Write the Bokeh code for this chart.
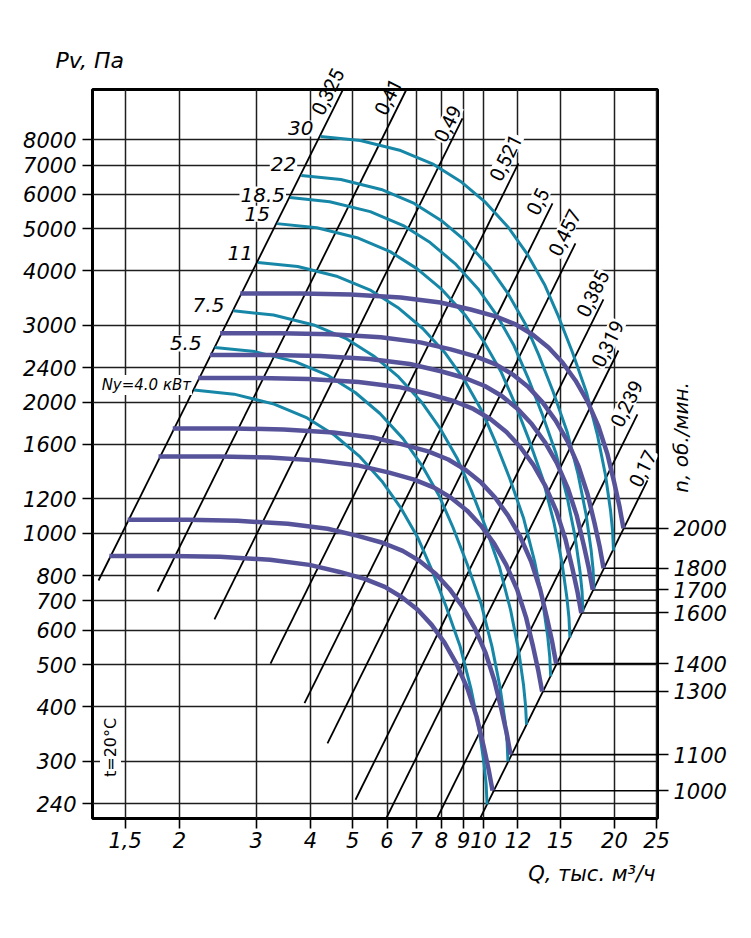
import math
from bokeh.plotting import figure
from bokeh.models import Range1d, FixedTicker, LogAxis, Label, Title
from bokeh.embed import file_html
from bokeh.resources import INLINE

# ---------------- axis ticks ----------------
q_ticks = [1.5, 2, 3, 4, 5, 6, 7, 8, 9, 10, 12, 15, 20, 25]
q_tick_labels = ["1,5", "2", "3", "4", "5", "6", "7", "8", "9", "10", "12", "15", "20", "25"]
p_ticks = [240, 300, 400, 500, 600, 700, 800, 1000, 1200, 1600, 2000, 2400,
           3000, 4000, 5000, 6000, 7000, 8000]
p_tick_labels = [str(v) for v in p_ticks]

Q_MIN, Q_MAX = 1.262, 25.12
P_MIN, P_MAX = 221.9, 10430

# ---------------- efficiency lines (P ~ Q^2) ----------------
eff_labels = ["0,325", "0,41", "0,49", "0,521", "0,5", "0,457", "0,385", "0,319", "0,239", "0,17"]
eff_q_lo = [1.303, 1.781, 2.407, 3.238, 3.877, 4.378, 5.078, 5.499, 6.08, 6.41]
eff_p_lo = [780, 736, 635, 503, 408, 330, 245, 188, 134, 94]
eff_q_hi = [4.766, 6.65, 8.948, 12.03, 14.41, 16.27, 18.87, 20.43, 22.59, 23.82]
eff_p_hi = [10486, 10430, 8950, 7058, 5713, 4626, 3441, 2628, 1875, 1323]

# ---------------- power curves (teal), Ny, kW ----------------
power_labels = ["30", "22", "18.5", "15", "11", "7.5", "5.5", "Ny=4.0 кВт"]
teal_q_30 = [4.22, 5.21, 6.45, 7.68, 8.86, 10.11, 11.41, 12.62, 13.81, 14.87, 16.02, 17.25, 18.29, 19.08, 19.59, 19.80, 19.90]
teal_p_30 = [8140, 7966, 7556, 7021, 6418, 5744, 5032, 4364, 3725, 3146, 2601, 2106, 1678, 1358, 1129, 1016, 914]
teal_q_22 = [3.81, 4.70, 5.82, 6.93, 7.99, 9.12, 10.29, 11.38, 12.46, 13.41, 14.45, 15.56, 16.50, 17.21, 17.67, 17.86, 17.95]
teal_p_22 = [6626, 6484, 6151, 5715, 5224, 4676, 4096, 3552, 3032, 2561, 2117, 1714, 1366, 1105, 919, 827, 744]
teal_q_185 = [3.59, 4.43, 5.49, 6.54, 7.54, 8.60, 9.71, 10.74, 11.75, 12.65, 13.63, 14.68, 15.56, 16.24, 16.67, 16.85, 16.93]
teal_p_185 = [5893, 5767, 5471, 5083, 4647, 4159, 3643, 3160, 2697, 2278, 1883, 1525, 1215, 983, 817, 736, 662]
teal_q_15 = [3.35, 4.14, 5.12, 6.10, 7.03, 8.03, 9.06, 10.02, 10.97, 11.81, 12.72, 13.70, 14.52, 15.15, 15.55, 15.72, 15.80]
teal_p_15 = [5136, 5027, 4768, 4430, 4050, 3624, 3175, 2754, 2350, 1985, 1641, 1329, 1059, 857, 712, 641, 577]
teal_q_11 = [3.03, 3.74, 4.62, 5.51, 6.35, 7.25, 8.18, 9.05, 9.90, 10.66, 11.49, 12.37, 13.11, 13.68, 14.05, 14.20, 14.27]
teal_p_11 = [4184, 4095, 3884, 3609, 3299, 2952, 2586, 2243, 1915, 1617, 1337, 1082, 862, 698, 580, 522, 470]
teal_q_75 = [2.66, 3.29, 4.07, 4.85, 5.59, 6.38, 7.20, 7.96, 8.71, 9.38, 10.11, 10.88, 11.54, 12.04, 12.36, 12.49, 12.56]
teal_p_75 = [3240, 3170, 3007, 2794, 2554, 2286, 2003, 1737, 1483, 1252, 1035, 838, 668, 540, 449, 404, 364]
teal_q_55 = [2.41, 2.98, 3.69, 4.39, 5.07, 5.78, 6.53, 7.22, 7.90, 8.51, 9.16, 9.87, 10.46, 10.91, 11.21, 11.33, 11.38]
teal_p_55 = [2670, 2613, 2478, 2303, 2105, 1884, 1650, 1431, 1222, 1032, 853, 691, 550, 445, 370, 333, 300]
teal_q_40 = [2.16, 2.67, 3.30, 3.93, 4.54, 5.18, 5.84, 6.46, 7.07, 7.61, 8.20, 8.83, 9.36, 9.77, 10.03, 10.14, 10.19]
teal_p_40 = [2133, 2087, 1980, 1840, 1682, 1505, 1318, 1143, 976, 824, 681, 552, 440, 356, 296, 266, 239]

# ---------------- fan curves (purple), n, rpm ----------------
rpm_values = [2000, 1800, 1700, 1600, 1400, 1300, 1100, 1000]
purple_q_2000 = [2.76, 3.80, 4.95, 6.45, 7.96, 9.34, 10.66, 11.85, 12.96, 14.11, 15.19, 16.27, 17.34, 18.38, 19.28, 20.00, 20.54, 20.98]
purple_p_2000 = [3553, 3553, 3534, 3478, 3387, 3264, 3146, 3016, 2860, 2670, 2467, 2243, 2008, 1759, 1518, 1302, 1153, 1027]
purple_q_1800 = [2.48, 3.42, 4.46, 5.81, 7.16, 8.41, 9.59, 10.67, 11.66, 12.70, 13.67, 14.64, 15.61, 16.54, 17.35, 18.00, 18.49, 18.88]
purple_p_1800 = [2878, 2878, 2863, 2817, 2743, 2644, 2548, 2443, 2317, 2163, 1998, 1817, 1626, 1425, 1230, 1055, 934, 832]
purple_q_1700 = [2.35, 3.23, 4.21, 5.48, 6.77, 7.94, 9.06, 10.07, 11.02, 11.99, 12.91, 13.83, 14.74, 15.62, 16.39, 17.00, 17.46, 17.83]
purple_p_1700 = [2567, 2567, 2553, 2513, 2447, 2358, 2273, 2179, 2066, 1929, 1782, 1621, 1451, 1271, 1097, 941, 833, 742]
purple_q_1600 = [2.21, 3.04, 3.96, 5.16, 6.37, 7.47, 8.53, 9.48, 10.37, 11.29, 12.15, 13.02, 13.87, 14.70, 15.42, 16.00, 16.43, 16.78]
purple_p_1600 = [2274, 2274, 2262, 2226, 2168, 2089, 2013, 1930, 1830, 1709, 1579, 1436, 1285, 1126, 972, 833, 738, 657]
purple_q_1400 = [1.93, 2.66, 3.47, 4.52, 5.57, 6.54, 7.46, 8.30, 9.07, 9.88, 10.63, 11.39, 12.14, 12.87, 13.50, 14.00, 14.38, 14.69]
purple_p_1400 = [1741, 1741, 1732, 1704, 1660, 1599, 1542, 1478, 1401, 1308, 1209, 1099, 984, 862, 744, 638, 565, 503]
purple_q_1300 = [1.79, 2.47, 3.22, 4.19, 5.17, 6.07, 6.93, 7.70, 8.42, 9.17, 9.87, 10.58, 11.27, 11.95, 12.53, 13.00, 13.35, 13.64]
purple_p_1300 = [1501, 1501, 1493, 1469, 1431, 1379, 1329, 1274, 1208, 1128, 1042, 948, 848, 743, 641, 550, 487, 434]
purple_q_1100 = [1.52, 2.09, 2.72, 3.55, 4.38, 5.14, 5.86, 6.52, 7.13, 7.76, 8.35, 8.95, 9.54, 10.11, 10.60, 11.00, 11.30, 11.54]
purple_p_1100 = [1075, 1075, 1069, 1052, 1025, 987, 952, 912, 865, 808, 746, 679, 607, 532, 459, 394, 349, 311]
purple_q_1000 = [1.38, 1.90, 2.48, 3.23, 3.98, 4.67, 5.33, 5.93, 6.48, 7.06, 7.60, 8.14, 8.67, 9.19, 9.64, 10.00, 10.27, 10.49]
purple_p_1000 = [888, 888, 884, 870, 847, 816, 787, 754, 715, 668, 617, 561, 502, 440, 380, 326, 288, 257]

teal_curves = [(teal_q_30, teal_p_30), (teal_q_22, teal_p_22), (teal_q_185, teal_p_185),
               (teal_q_15, teal_p_15), (teal_q_11, teal_p_11), (teal_q_75, teal_p_75),
               (teal_q_55, teal_p_55), (teal_q_40, teal_p_40)]
purple_curves = [(purple_q_2000, purple_p_2000), (purple_q_1800, purple_p_1800),
                 (purple_q_1700, purple_p_1700), (purple_q_1600, purple_p_1600),
                 (purple_q_1400, purple_p_1400), (purple_q_1300, purple_p_1300),
                 (purple_q_1100, purple_p_1100), (purple_q_1000, purple_p_1000)]

TEAL = "#1787a8"
PURPLE = "#57539a"
GRID = "#1e1e1e"
FONT = "DejaVu Sans"

p = figure(x_axis_type="log", y_axis_type="log",
           x_range=Range1d(Q_MIN, Q_MAX), y_range=Range1d(P_MIN, P_MAX),
           frame_width=565, frame_height=729,
           min_border_left=92, min_border_right=86, min_border_top=89, min_border_bottom=90,
           output_backend="svg", toolbar_location=None)
p.background_fill_color = "white"
p.border_fill_color = "white"
p.outline_line_color = "black"
p.outline_line_width = 3


def style_axis(ax):
    ax.axis_line_color = None
    ax.major_tick_line_color = "black"
    ax.major_tick_line_width = 1.6
    ax.major_tick_out = 10
    ax.major_tick_in = 0
    ax.minor_tick_line_color = None
    ax.major_label_text_font = FONT
    ax.major_label_text_font_style = "italic"
    ax.major_label_text_font_size = "21px"
    ax.major_label_text_color = "black"
    ax.major_label_standoff = 5


xax = p.xaxis[0]
xax.ticker = FixedTicker(ticks=q_ticks)
xax.major_label_overrides = dict(zip(q_ticks, q_tick_labels))
style_axis(xax)
xax.major_label_standoff = 3

yax = p.yaxis[0]
yax.ticker = FixedTicker(ticks=p_ticks)
yax.major_label_overrides = dict(zip(p_ticks, p_tick_labels))
style_axis(yax)
yax.major_label_standoff = 6

leader_p = [c[1][-1] for c in purple_curves]
leader_q = [c[0][-1] for c in purple_curves]
rax = LogAxis(ticker=FixedTicker(ticks=leader_p),
              major_label_overrides={pv: str(n) for pv, n in zip(leader_p, rpm_values)})
style_axis(rax)
rax.major_tick_out = 11
p.add_layout(rax, "right")

# the two top efficiency labels cross the frame edge: drawn as rotated labels of a top axis
top_label_q = [q * 0.867 for q in eff_q_hi[:2]]
tax = LogAxis(ticker=FixedTicker(ticks=top_label_q),
              major_label_overrides=dict(zip(top_label_q, eff_labels[:2])))
tax.axis_line_color = None
tax.major_tick_line_color = None
tax.major_tick_out = 0
tax.major_tick_in = 0
tax.minor_tick_line_color = None
tax.major_label_orientation = 1.11
tax.major_label_standoff = -24
tax.major_label_text_font = "Roboto"
tax.major_label_text_font_size = "20px"
tax.major_label_text_color = "black"
p.add_layout(tax, "above")

# "Pv, Па" in the top panel
p.add_layout(Label(x=1.038, y=12150, text="Pv, Па", text_align="left", text_baseline="middle",
                   text_font=FONT, text_font_style="italic", text_font_size="22px",
                   text_color="black"), "above")

# rpm scale title, placed in the right-hand panel
p.add_layout(Label(x=29.14, y=1661, x_offset=-5, text="n, об./мин.", angle=math.pi / 2,
                   text_align="center", text_baseline="middle", text_font=FONT,
                   text_font_style="italic", text_font_size="20px", text_color="black"), "right")

# title below: "Q, тыс. м³/ч"
p.add_layout(Title(text="Q, тыс. м³/ч", align="right", offset=2, standoff=22,
                   vertical_align="top", text_font=FONT, text_font_style="italic",
                   text_font_size="21px", text_color="black"), "below")

p.xgrid.ticker = FixedTicker(ticks=q_ticks)
p.ygrid.ticker = FixedTicker(ticks=p_ticks)
p.grid.grid_line_color = GRID
p.grid.grid_line_width = 1.5
p.grid.minor_grid_line_color = None

# efficiency lines
p.segment(x0=eff_q_lo, y0=eff_p_lo, x1=eff_q_hi, y1=eff_p_hi, line_color="black", line_width=1.8)

# leader lines to the rpm scale
p.segment(x0=leader_q, y0=leader_p, x1=[Q_MAX] * len(leader_p), y1=leader_p,
          line_color="black", line_width=1.6)

for q, pv in teal_curves:
    p.line(q, pv, line_color=TEAL, line_width=3)
for q, pv in purple_curves:
    p.line(q, pv, line_color=PURPLE, line_width=4.5)

# efficiency labels (offsets in screen pixels from each line's upper end)
eff_dx = [-15, -18, -15, -13, -15, -11, -11, -11, -11, -5]
eff_dy = [-1, -12, -5, 6, 2, 11, 6, 7, 11, 12]
for lab, q, pv, dx, dy in list(zip(eff_labels, eff_q_hi, eff_p_hi, eff_dx, eff_dy))[2:]:
    p.add_layout(Label(x=q, y=pv, text=lab, angle=1.11, x_offset=dx, y_offset=dy,
                       text_align="center", text_baseline="middle",
                       text_font="Roboto", text_font_size="20px", text_color="black",
                       background_fill_color="white", padding=1))

# power labels
power_dx = [-6, -4, -4, -6, -4, -8, -12, -2]
power_dy = [8, 11, 3, 10, 9, 6, 4, 5]
for lab, (q, pv), dx, dy in zip(power_labels, teal_curves, power_dx, power_dy):
    small = lab.startswith("Ny")
    p.add_layout(Label(x=q[0], y=pv[0], text=lab, x_offset=dx, y_offset=dy,
                       text_align="right", text_baseline="alphabetic",
                       text_font=FONT, text_font_style="italic",
                       text_font_size="15px" if small else "20px", text_color="black",
                       background_fill_color="white", padding=1))

p.add_layout(Label(x=1.388, y=323, text="t=20°C", angle=math.pi / 2, text_align="center",
                   text_baseline="middle", text_font=FONT, text_font_size="16px", text_color="black",
                   background_fill_color="white", padding=1))

open("out.html", "w").write(file_html(p, INLINE, title="Fan chart"))
